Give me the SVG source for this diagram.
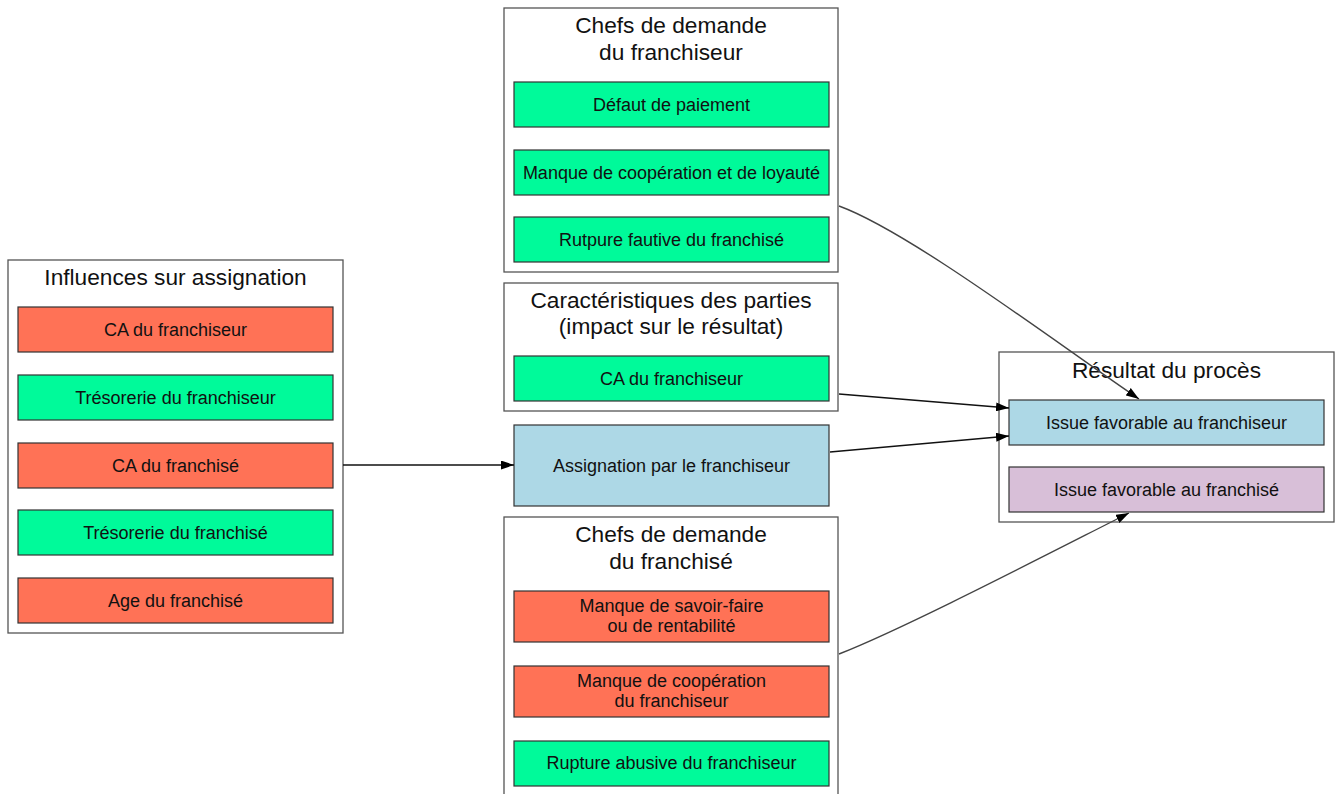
<svg xmlns="http://www.w3.org/2000/svg" width="1338" height="794" viewBox="0 0 1338 794">
<defs>
<style>
text{font-family:"Liberation Sans",Arial,sans-serif;fill:#111;text-anchor:middle}
.t{font-size:22.7px}
.n{font-size:18px}
.cl{fill:#fff;stroke:#555;stroke-width:1.3}
.nd{stroke:#333;stroke-width:1.2}
.g{fill:#00fa9a}
.r{fill:#ff7256}
.b{fill:#add8e6}
.p{fill:#d8bfd8}
.e{fill:none;stroke:#111;stroke-width:1.3}
.ec{fill:none;stroke:#444;stroke-width:1.4}
</style>
<marker id="ar" viewBox="0 0 13 9" refX="13" refY="4.5" markerWidth="13" markerHeight="9" markerUnits="userSpaceOnUse" orient="auto">
<path d="M0,0 L13,4.5 L0,9 Z" fill="#000"/>
</marker>
</defs>
<rect width="1338" height="794" fill="#fff"/>

<g id="cluster_influences">
<rect class="cl" x="8" y="260" width="335" height="373"/>
<text class="t" x="175.5" y="285">Influences sur assignation</text>
<g id="inf_ca_franchiseur"><rect class="nd r" x="18" y="307" width="315" height="45"/><text class="n" x="175.5" y="335.5">CA du franchiseur</text></g>
<g id="inf_treso_franchiseur"><rect class="nd g" x="18" y="375" width="315" height="45"/><text class="n" x="175.5" y="403.5">Trésorerie du franchiseur</text></g>
<g id="inf_ca_franchise"><rect class="nd r" x="18" y="443" width="315" height="45"/><text class="n" x="175.5" y="471.5">CA du franchisé</text></g>
<g id="inf_treso_franchise"><rect class="nd g" x="18" y="510" width="315" height="45"/><text class="n" x="175.5" y="538.5">Trésorerie du franchisé</text></g>
<g id="inf_age"><rect class="nd r" x="18" y="578" width="315" height="45"/><text class="n" x="175.5" y="606.5">Age du franchisé</text></g>
</g>

<g id="cluster_chefs_franchiseur">
<rect class="cl" x="504" y="8" width="334" height="264"/>
<text class="t" x="671" y="33">Chefs de demande</text>
<text class="t" x="671" y="59.5">du franchiseur</text>
<g id="defaut"><rect class="nd g" x="514" y="82" width="315" height="45"/><text class="n" x="671.5" y="110.5">Défaut de paiement</text></g>
<g id="manque_coop_loyaute"><rect class="nd g" x="514" y="150" width="315" height="45"/><text class="n" x="671.5" y="178.5">Manque de coopération et de loyauté</text></g>
<g id="rutpure"><rect class="nd g" x="514" y="217" width="315" height="45"/><text class="n" x="671.5" y="245.5">Rutpure fautive du franchisé</text></g>
</g>

<g id="cluster_caracteristiques">
<rect class="cl" x="504" y="283" width="334" height="128"/>
<text class="t" x="671" y="307.5">Caractéristiques des parties</text>
<text class="t" x="671" y="334">(impact sur le résultat)</text>
<g id="car_ca_franchiseur"><rect class="nd g" x="514" y="356" width="315" height="45"/><text class="n" x="671.5" y="384.5">CA du franchiseur</text></g>
</g>

<g id="assignation"><rect class="nd b" x="514" y="425" width="315" height="81"/><text class="n" x="671.5" y="471.5">Assignation par le franchiseur</text></g>

<g id="cluster_chefs_franchise">
<rect class="cl" x="504" y="517" width="334" height="292"/>
<text class="t" x="671" y="542">Chefs de demande</text>
<text class="t" x="671" y="568.5">du franchisé</text>
<g id="manque_savoir"><rect class="nd r" x="514" y="591" width="315" height="51"/><text class="n" x="671.5" y="612">Manque de savoir-faire</text><text class="n" x="671.5" y="632">ou de rentabilité</text></g>
<g id="manque_coop_franchiseur"><rect class="nd r" x="514" y="666" width="315" height="51"/><text class="n" x="671.5" y="687">Manque de coopération</text><text class="n" x="671.5" y="707">du franchiseur</text></g>
<g id="rupture_abusive"><rect class="nd g" x="514" y="741" width="315" height="45"/><text class="n" x="671.5" y="769">Rupture abusive du franchiseur</text></g>
</g>

<g id="cluster_resultat">
<rect class="cl" x="999" y="352" width="335" height="170"/>
<text class="t" x="1166.5" y="378">Résultat du procès</text>
<g id="issue_franchiseur"><rect class="nd b" x="1009" y="400" width="315" height="45"/><text class="n" x="1166.5" y="428.5">Issue favorable au franchiseur</text></g>
<g id="issue_franchise"><rect class="nd p" x="1009" y="467" width="315" height="45"/><text class="n" x="1166.5" y="495.5">Issue favorable au franchisé</text></g>
</g>

<g id="connectors">
<path class="e" d="M343,465 L514,465" marker-end="url(#ar)"/>
<path class="ec" d="M839,206 C910,232 1055,342 1139,399" marker-end="url(#ar)"/>
<path class="e" d="M839,394 L1009,408" marker-end="url(#ar)"/>
<path class="e" d="M830,452 L1009,436" marker-end="url(#ar)"/>
<path class="ec" d="M839,654 C905,628 1040,558 1129,513" marker-end="url(#ar)"/>
</g>
</svg>
